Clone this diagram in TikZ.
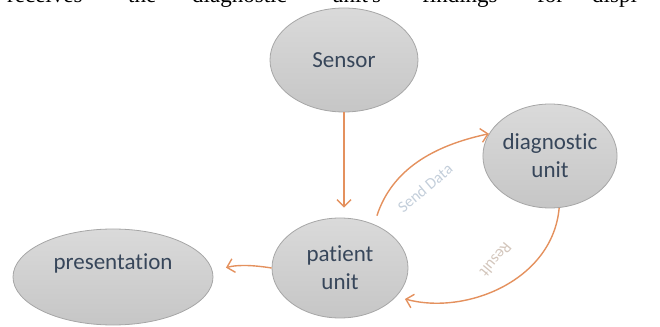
\documentclass[tikz,border=0pt]{standalone}
\usepackage{fontspec}
\setmainfont{Carlito}[Ligatures=NoCommon]
\newfontfamily\serifpage{Liberation Serif}
\usetikzlibrary{arrows.meta,shapes.geometric}
\definecolor{arrowc}{HTML}{E4915E}
\definecolor{ellborder}{HTML}{A6A6A6}
\definecolor{elltop}{HTML}{DADADA}
\definecolor{ellbot}{HTML}{C6C6C6}
\definecolor{txtc}{HTML}{37465A}
\definecolor{sendc}{HTML}{C3CEDA}
\definecolor{resc}{HTML}{D3C6BC}
\tikzset{
  bubble/.style={ellipse, draw=ellborder, line width=0.8pt, top color=elltop, bottom color=ellbot,
    inner sep=0pt, text=txtc, font=\fontsize{23}{28}\selectfont, align=center},
  flow/.style={draw=arrowc, line width=1.4pt, -{Straight Barb[length=7pt,width=14pt]}},
  arrowlbl/.style={font=\fontsize{16}{18}\selectfont, inner sep=0pt},
  pageword/.style={anchor=base west, inner sep=0pt, font=\serifpage\fontsize{23}{26}\selectfont}
}
\begin{document}
\begin{tikzpicture}[x=1pt,y=1pt]
\useasboundingbox (0,0) rectangle (660,326);
\clip (0,0) rectangle (660,326);
% page text cut at the top
\node[pageword] (w1) at (7,323) {receives};
\node[pageword] (w2) at (128,323) {the};
\node[pageword] (w3) at (192,323) {diagnostic};
\node[pageword] (w4) at (332,323) {unit's};
\node[pageword] (w5) at (422,323) {findings};
\node[pageword] (w6) at (537,323) {for};
\node[pageword] (w7) at (592,323) {displ};
% ellipses
\node[bubble, minimum width=148pt, minimum height=104pt] (sens) at (344,266) {Sensor};
\node[bubble, minimum width=136pt, minimum height=100pt] (pat) at (340,58) {patient\\unit};
\node[bubble, minimum width=134pt, minimum height=104pt] (diag) at (550,170) {diagnostic\\unit};
\node[bubble, minimum width=200pt, minimum height=96pt] (pres) at (113,49) {};
\node[text=txtc, font=\fontsize{23}{28}\selectfont, inner sep=0pt] (prestxt) at ([yshift=14pt]pres.center) {presentation};
% connectors
\draw[flow, shorten >=10pt] (sens.south) -- (sens.south |- pat.north);
\draw[flow, shorten <=9pt] (pat.52) to[out=72,in=192] (diag.160);
\draw[flow, shorten >=9pt] (diag.-80) to[out=-95,in=-15] (pat.-27);
\draw[flow, shorten >=13pt] (pat.west) to[bend right=12] ([yshift=6pt]pres.east);
% labels
\node[arrowlbl, text=sendc, rotate=40] (lsend) at (425,138) {Send Data};
\node[arrowlbl, text=resc, rotate=230] (lres) at (496,66) {Result};
\end{tikzpicture}
\end{document}
